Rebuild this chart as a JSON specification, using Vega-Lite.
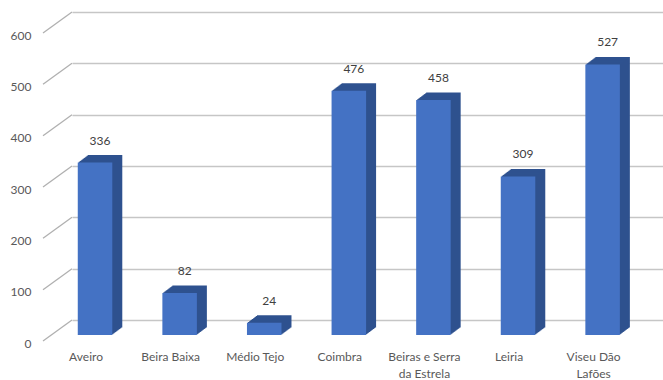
{
  "$schema": "https://vega.github.io/schema/vega-lite/v6.json",
  "width": 591,
  "height": 308,
  "autosize": "none",
  "padding": {"left": 72, "top": 12, "right": 0, "bottom": 60},
  "background": "white",
  "config": {
    "view": {"stroke": null},
    "font": "Lato",
    "axis": {"labelFont": "Lato", "labelFontSize": 12, "labelColor": "#595959"}
  },
  "data": {"values": [
    {"region": "Aveiro", "value": 336},
    {"region": "Beira Baixa", "value": 82},
    {"region": "Médio Tejo", "value": 24},
    {"region": "Coimbra", "value": 476},
    {"region": "Beiras e Serra da Estrela", "value": 458},
    {"region": "Leiria", "value": 309},
    {"region": "Viseu Dão Lafões", "value": 527}
  ]},
  "layer": [
    {
      "data": {"values": [{"v": 0}, {"v": 100}, {"v": 200}, {"v": 300}, {"v": 400}, {"v": 500}, {"v": 600}]},
      "mark": {"type": "rule", "color": "#b0b0b0", "strokeWidth": 1.3, "yOffset": 21, "y2Offset": 0},
      "encoding": {
        "x": {"value": -29},
        "x2": {"value": 0},
        "y": {"field": "v", "type": "quantitative", "scale": {"domain": [0, 600], "nice": false}, "axis": {"values": [0, 100, 200, 300, 400, 500, 600], "title": null, "grid": true, "gridColor": "#c6c6c6", "gridWidth": 1.5, "domain": false, "ticks": false, "labelPadding": 41, "labelOffset": 23}},
        "y2": {"field": "v"}
      }
    },
    {"mark": {"type": "bar", "color": "#2F528F", "xOffset": 10, "yOffset": 7.5, "y2Offset": 7.5}, "encoding": {"x": {"field": "region", "type": "nominal", "sort": null, "scale": {"paddingInner": 0.592, "paddingOuter": 0.289, "align": 0.118}, "axis": {"title": null, "domain": false, "ticks": false, "labelAngle": 0, "labelPadding": 31, "labelOffset": -9, "labelLineHeight": 17, "labelExpr": "datum.value == 'Beiras e Serra da Estrela' ? ['Beiras e Serra', 'da Estrela'] : datum.value == 'Viseu Dão Lafões' ? ['Viseu Dão', 'Lafões'] : datum.label"}}, "y": {"field": "value", "type": "quantitative"}}},
    {"mark": {"type": "bar", "color": "#2F528F", "xOffset": 9, "yOffset": 8.25, "y2Offset": 8.25}, "encoding": {"x": {"field": "region", "type": "nominal", "sort": null}, "y": {"field": "value", "type": "quantitative"}}},
    {"mark": {"type": "bar", "color": "#2F528F", "xOffset": 8, "yOffset": 9, "y2Offset": 9}, "encoding": {"x": {"field": "region", "type": "nominal", "sort": null}, "y": {"field": "value", "type": "quantitative"}}},
    {"mark": {"type": "bar", "color": "#2F528F", "xOffset": 7, "yOffset": 9.75, "y2Offset": 9.75}, "encoding": {"x": {"field": "region", "type": "nominal", "sort": null}, "y": {"field": "value", "type": "quantitative"}}},
    {"mark": {"type": "bar", "color": "#2F528F", "xOffset": 6, "yOffset": 10.5, "y2Offset": 10.5}, "encoding": {"x": {"field": "region", "type": "nominal", "sort": null}, "y": {"field": "value", "type": "quantitative"}}},
    {"mark": {"type": "bar", "color": "#2F528F", "xOffset": 5, "yOffset": 11.25, "y2Offset": 11.25}, "encoding": {"x": {"field": "region", "type": "nominal", "sort": null}, "y": {"field": "value", "type": "quantitative"}}},
    {"mark": {"type": "bar", "color": "#2F528F", "xOffset": 4, "yOffset": 12, "y2Offset": 12}, "encoding": {"x": {"field": "region", "type": "nominal", "sort": null}, "y": {"field": "value", "type": "quantitative"}}},
    {"mark": {"type": "bar", "color": "#2F528F", "xOffset": 3, "yOffset": 12.75, "y2Offset": 12.75}, "encoding": {"x": {"field": "region", "type": "nominal", "sort": null}, "y": {"field": "value", "type": "quantitative"}}},
    {"mark": {"type": "bar", "color": "#2F528F", "xOffset": 2, "yOffset": 13.5, "y2Offset": 13.5}, "encoding": {"x": {"field": "region", "type": "nominal", "sort": null}, "y": {"field": "value", "type": "quantitative"}}},
    {"mark": {"type": "bar", "color": "#2F528F", "xOffset": 1, "yOffset": 14.25, "y2Offset": 14.25}, "encoding": {"x": {"field": "region", "type": "nominal", "sort": null}, "y": {"field": "value", "type": "quantitative"}}},
    {"mark": {"type": "bar", "color": "#4472C4", "yOffset": 15, "y2Offset": 15}, "encoding": {"x": {"field": "region", "type": "nominal", "sort": null}, "y": {"field": "value", "type": "quantitative"}}},
    {"mark": {"type": "text", "color": "#404040", "fontSize": 12, "baseline": "middle", "xOffset": 5, "yOffset": -7}, "encoding": {"x": {"field": "region", "type": "nominal", "sort": null}, "y": {"field": "value", "type": "quantitative"}, "text": {"field": "value", "type": "quantitative"}}}
  ]
}
